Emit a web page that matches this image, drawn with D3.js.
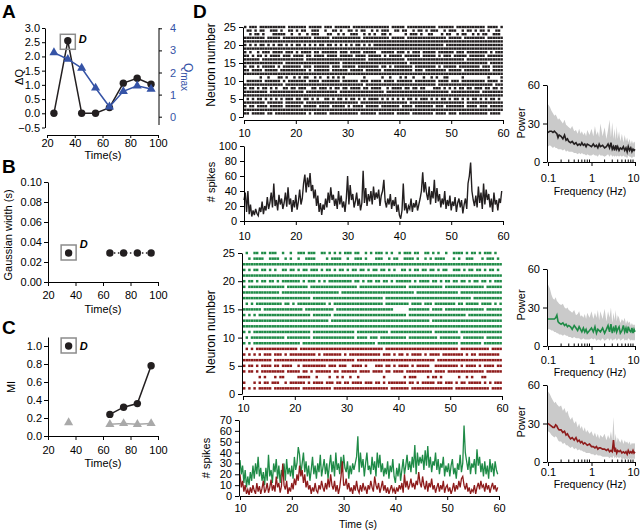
<!DOCTYPE html>
<html><head><meta charset="utf-8">
<script src="https://cdn.jsdelivr.net/npm/d3@7"></script>
<style>
body{margin:0;background:#fff;}
svg{font-family:"Liberation Sans",Arial,Helvetica,sans-serif;}
</style></head><body>
<svg id="c" width="640" height="532"></svg>
<script>
// ---------------- DATA ----------------
// Panel A
const timesA = [25,35,45,55,65,75,85,95];
const deltaQ = [0,2.55,0,0,0.2,1.06,1.23,1.02];
const qMax = [2.9,2.6,2.2,1.3,0.45,1.15,1.4,1.25];
const ticksA_x = [20,40,60,80,100];
const ticksA_y = [-0.5,0,0.5,1,1.5,2,2.5,3];
const ticksA_q = [0,1,2,3,4];
// Panel B
const timesB = [65,75,85,95];
const gaussWidth = [0.029,0.029,0.029,0.029];
const highlightB = {t:35, v:0.029};
const ticksB_y = [0,0.02,0.04,0.06,0.08,0.10];
// Panel C
const timesC = [65,75,85,95];
const miValues = [0.24,0.32,0.36,0.78];
const highlightC = {t:35, v:1.0};
const timesCShuf = [65,75,85,95];
const miShuffled = [0.13,0.14,0.13,0.14];
const miShufSingle = {t:35, v:0.15};
const ticksC_y = [0,0.2,0.4,0.6,0.8,1.0];
// Panel D rasters (one string per neuron, 25 -> 1; each char = 0.5 s bin from 10 s)
const rasterBinStart = 10, rasterBinWidth = 0.5;
const rasterTopRows = [
"#.###.#### ######.### ####.##### .###.##### #.######## ######.### ##.####### ####.##### #.######## ###.####.#",
".##.#.##.. ###.#..##. #.##..###. .#..##.#.. ##.#.##..# .#.###..## .##..#.##. #.###..#.# ##..#.##.# .##.#..##.",
"..#.##.#.. .#####..#. .#..#.###. ..##..#.#. .###..#.#. #..##.#... ..#.###.#. .##...#.## ..#.##..#. #.##..###.",
"########.# ####.##### ######.### ###.###### #####.#### ######.### ##.####### ########.# ####.##### ###.######",
"########## ########## ########## ########## ########## ########## ########## ########## ########## ##########",
"#.#.#.##.# .#.##.#.#. ##.#.#.#.# #.##.#.#.# .#.##.#.#. ########## ########## #######.## ########## ##########",
"########## ########## ########## ########## ########## ########## ########## ########## ########## ##########",
"#.#..#.### .####.###. #.####.##. ######.### .####.#### #..#####.# ##.#.###.# ####.##### #.###.#### ####.#.###",
"##.#.##.#. ####.###.# ###.##.### #.####.### ##.####.## ###.#.#### #.######.# ####.#.### .#####.### ###.######",
"######.### ########## ###.###### ########## #######.## ########## ##.####### ########## #####.#### ##########",
"########## #####.#### ########## #######.## ########## ########## ###.###### ########## ########## ####.#####",
"#.##.#.### ##.#.##### ##.###.### ###.###.## ###.###### ##.##.#.## #####.#### ####.#.### ##.####### #.###.####",
"##.####.## ###.###### ####.#.### ###.###### .#####.### ###.###### #####.###. ########.# ####.##### #####.####",
"########## ########## ########## ########## ########## ########## ########## ########## ########## ##########",
"......#..# ...##.#..# .#.##..#.# ..#.#.#.#. ......#... ...#..#... #.#..#...# ..#.#..##. ....#..... ....#....#",
".######.## ####.#.### ####.####. #######.## ####.###.# ###.####.# #####.#### ####.####. ###.###### ###.####.#",
"########## #####.#### ########## ########## ######.### ########## ########## ####.##### ########## ######.###",
"#.##.#.##. #.#..##.## .###..##.# ##.#.##.## .####.##.# ###..#.### #.##.##.## ...###.#.# .#.##.##.# ##.##.##.#",
"#########. ########## ###.###### ######.### ########## ####.##### ########## #########. ########## #.########",
"########## ########## ########## ########## ########## ########## ########## ########## ########## ##########",
".#.#.##.#. #.#.#.###. ##.##.#.#. .##.#.##.# .##.#.#.## ##.#.#.#.# .#.##.#.## #.#.#.##.# .##.#.#.## .#.#.##.#.",
"########.# #####.#### ###.###### ########## ####.##### ########## ###.###### ########## #####.#### ##########",
"#.##.####. #####.#### ##.#####.# ###.#####. #.####.### ##.####### .####.#### ###.###.## #####.#### .###.#####",
"########## ########## ########## ########## ########## ########## ########## ########## ########## ##########",
"##.#####.# #.######## ####.#.### ##.####### ####.##### #.######.# ####.##### ###.####.# ##.####### ####.####."
];
const rasterBotRows = [
".#..##.##. ###..#..#. .###.###.. ##.#.#.#.# ##.##..#.# .###.#.#.. #.###.##.. ##.#.#..#. .####.#.## .#.###.#..",
"..#.####.. ####..#.#. .#..####.. ..#.####.. #..###.#.. .###..#.## ..####.#.. #.#.####.. .#.#..###. ..#.###.#.",
"########## ########## ########## ########## ########## ########## ########## ########## ########## ##########",
"#.#.##.##. #.#..##.## .#.##.###. #.##.#.##. #.##.##.#. ##.##.#.#. .##.#.##.# #.##.#.##. .###.#.##. ##.#.##.#.",
"########## ########## ########## ########## ########## ########## ########## ########## ########## ##########",
"#.##.#.##. ##.#.##### ##.#.###.# .#.####### ##.##.#.## .##.##.#.# #####.#.## ##.##.#.## .##.##.#.# #.##.#.###",
"#.######## ######.### #####.#### ########## ####.##### ########## ###.###### #######.## ########## ###.######",
"########## ####.##### ########## #######.## ########## ########## ######.### ########## ###.###### ##########",
"########## ########## ######.### ########## ########## ####.##### ########## ########## ########.# ##########",
".#.#.##### #####.##.# .######### ##.#.##### ########## ####.##### ####.####. ###.###### ##.##.#### #.####.#.#",
"#######.## ########## ###.###### #####.#### ########## ########.. ....###### ##.####.## ########## ###.######",
"#.#.#.#### ########## ######.### ####.##### ########## ########## ###.###### ########## ######.### ##########",
"########## ########## ########## ###.###### ########## ########## ########## ##.####### ########## ##########",
"########## ########## ########## ########## ########## ########## ########## ########## ########## ##########",
"#.#.###### ########## ######.### ########## ###.###### ######.### ########## ###.###### ###.###### ##########",
".#.####### ######.### ######.### ########## ###.####.# ##.####### ###.###### #####.#### ####.##### ###.######",
"#.#.###### ########## ##.####### ########## ########## #.######## ########## ########## ###.###### ##.#######",
".#.#.##### ########## #.######## ########## ########## ####.##### ########## ########## ###.###### #####.####",
"#.#.#.#.## #.###.#.## ########.# .#######.# .######### ###.###.#. ##.#.####. #.####.### #####.#.## .########.",
"########## #.######## ########## ########## ###.###### ########## ########## ####.##### ########## ##########",
"#.##.#.### #.##.####. .#.####### ##.###.### ..####.#.. .###.##.#. ####.#.### ##..###### ###.#.#### .#.####.##",
"#.##.#.### ######.### ##.##.#.## ####.##.## ####.####. ####.##.## ##.####### ###.####.# ########## ###.######",
"......#.#. ..#.##.... .#####..#. ...#..#.#. .#..#..... ....#..... ..#.###... .#.##.#... ...#..#.#. ..##......",
"#...#.#.## .###..#.## ####.#.### #.###.##.# #.####.### .##.#.#### ###.##.#.# ####.##.## #.#.##.### ##.#.#.###",
"#.#.#.#### #.######## ##.####### ####.##### ########## ######.### ####.##### ########## #.######## #####.####"
];
const rasterBotGroup = ["E","E","E","E","E","E","E","E","E","E","E","E","E","E","E","E","E","I","I","I","I","I","I","I","I"];
// Panel D spike counts (0.25 s bins from 10 s)
const spikeBinStart = 10, spikeBinWidth = 0.25;
const spikesAll = [
28,38,12,40,9,22,6,14,8,16,10,7,18,12,26,9,20,14,32,16,
24,38,18,50,20,28,14,35,22,30,16,24,38,19,45,22,30,12,28,18,
35,15,26,42,22,30,50,62,38,58,45,64,40,48,30,42,20,34,12,24,
8,22,15,30,18,38,24,45,28,35,20,30,16,40,22,34,18,26,12,30,
60,22,48,28,36,18,26,38,20,30,14,24,67,24,44,20,36,26,40,22,
46,28,38,30,42,20,34,40,55,26,18,30,22,36,16,28,20,32,12,22,
8,3,14,50,14,24,10,20,16,30,12,24,18,28,14,22,30,40,65,38,
52,36,28,46,22,40,30,55,24,44,26,36,18,30,22,40,16,28,20,34,
14,26,20,32,12,24,30,18,28,10,22,30,16,50,60,78,40,28,20,34,
18,46,24,38,16,50,22,42,28,36,18,30,12,38,22,28,14,30,24,40];
const spikesE = [
33,20,28,12,24,8,18,10,22,14,28,16,30,20,36,18,26,14,22,10,
26,14,38,18,24,12,30,22,34,16,28,12,24,18,30,14,34,20,26,18,
28,16,36,24,30,45,38,20,30,40,22,32,18,28,14,24,36,20,28,16,
30,22,38,18,26,34,20,30,16,28,38,22,32,18,40,24,30,20,36,22,
38,26,22,32,16,28,20,30,24,30,36,55,22,40,26,34,18,30,40,24,
28,20,36,24,32,18,40,26,38,22,30,18,26,20,32,16,28,22,34,18,
12,26,18,30,14,24,34,20,28,38,24,32,22,36,26,47,20,40,28,36,
30,38,24,42,28,46,26,36,22,32,28,40,24,34,20,30,26,36,18,28,
22,30,18,28,34,20,26,16,30,24,38,22,30,65,40,32,24,36,20,30,
26,34,20,43,28,36,22,30,18,32,20,28,16,34,22,30,18,32,24,20];
const spikesI = [
20,8,14,4,10,2,6,1,8,3,10,5,2,12,4,9,2,7,14,3,
6,12,3,8,15,5,10,4,18,8,12,3,9,30,10,6,14,2,8,4,
12,6,16,10,20,14,28,18,24,12,20,8,14,6,10,2,8,4,12,5,
3,10,6,14,8,4,12,6,16,8,20,10,6,14,4,10,2,8,18,32,
10,10,16,6,12,4,8,2,10,5,14,6,3,10,4,12,6,8,2,10,
6,14,8,4,18,10,6,12,3,8,14,5,10,3,8,2,6,10,4,7,
2,8,4,10,6,12,3,20,8,14,6,10,16,8,12,6,14,10,22,12,
8,18,10,6,14,4,12,8,16,6,10,3,8,12,4,10,6,14,3,8,
10,4,8,2,6,12,4,10,6,14,8,16,18,10,6,12,4,8,2,6,
4,10,2,8,12,6,14,8,10,4,12,6,10,3,8,12,6,10,4,8];
const ticksTime = [10,20,30,40,50,60];
const ticksNeuron = [0,5,10,15,20,25];
const ticksSpikesTop = [0,20,40,60,80,100];
const ticksSpikesBot = [0,10,20,30,40,50,60,70];
// Power spectra
const powFreq = [0.1,0.11,0.12,0.13,0.14,0.15,0.16,0.17,0.18,
 0.2,0.22,0.24,0.26,0.28,0.3,
 0.33,0.36,0.4,0.44,0.48,0.52,0.56,0.6,
 0.65,0.7,0.75,0.8,0.9,1.0,
 1.1,1.2,1.3,1.4,1.5,1.6,1.8,2.0,
 2.2,2.4,2.6,2.8,3.0,3.2,3.4,3.6,3.8,4.0,
 4.3,4.6,5.0,5.4,5.8,6.2,6.6,7.0,7.5,8.0,8.5,9.0,9.5,10];
const powAllMean = [23,24,24,23,24,23,22,19,21, 20,18,21,17,18,16, 15,16,14,15,13,14,13,15, 13,14,12,14,13,12, 14,12,13,11,14,12,13,11, 12,14,11,15,10,12,9,13,10,12, 9,11,10,12,9,11,8,12,9,11,8,10,9,10];
const powAllHi = [45,43,40,38,36,37,35,33,34, 32,30,33,29,28,27, 26,28,24,25,22,26,22,24, 21,23,20,25,21,26, 20,28,21,24,19,30,20,27, 18,25,33,19,31,18,26,17,28,18, 24,16,22,15,21,16,19,15,18,14,17,14,16,15];
const powAllLo = [12,13,12,11,12,11,11,10,10, 10,9,10,8,9,8, 8,8,7,7,6,7,6,7, 6,6,5,6,5,5, 6,5,5,4,6,5,5,4, 5,6,4,6,4,5,4,5,4,5, 4,5,4,5,4,4,3,5,4,4,3,4,4,4];
const powEMean = [21,21,21,21,21,22,24,19,18, 17,18,16,17,15,16, 15,13,16,14,12,15,13,11, 14,11,13,10,12,14, 11,15,10,13,12,11,14,10, 13,16,11,17,10,14,12,16,11,13, 15,10,12,16,11,14,10,15,12,11,14,10,13,11];
const powEHi = [48,45,40,37,36,38,35,34,33, 32,33,30,29,30,28, 27,26,28,24,25,27,23,24, 22,25,21,26,22,27, 21,26,22,28,20,27,21,29, 19,27,22,30,18,26,20,28,19,24, 22,18,21,19,22,17,20,18,19,16,18,16,17,16];
const powELo = [13,13,12,12,11,11,10,10,9, 9,8,9,8,8,7, 7,6,7,6,6,6,5,5, 6,5,5,5,5,6, 5,6,4,5,5,4,6,4, 5,6,4,6,4,5,5,6,4,5, 6,4,5,6,4,5,4,6,5,4,5,4,5,4];
const powIMean = [30,29,28,27,27,29,28,26,25, 25,23,24,21,22,20, 18,19,17,19,16,17,15,16, 14,15,14,13,14,12, 12,11,12,10,11,11,10,10, 9,10,8,9,8,17,8,10,7,9, 8,9,7,8,7,8,6,9,7,8,7,9,7,8];
const powIHi = [55,53,50,48,46,47,45,44,43, 44,40,42,38,40,36, 33,35,30,32,27,30,26,28, 24,27,23,25,22,24, 20,23,19,22,18,21,19,22, 17,21,18,24,17,35,16,22,15,19, 17,15,18,14,17,15,16,14,16,13,15,14,15,14];
const powILo = [24,23,21,20,19,20,19,17,16, 16,14,15,13,13,12, 11,12,10,11,9,10,9,9, 8,8,7,7,7,6, 6,5,6,5,5,5,4,4, 4,4,3,4,3,5,3,4,3,4, 3,4,2,3,2,3,2,3,2,3,2,3,2,3];
const powMajorTicks = [0.1,1,10];
const powMinorTicks = [0.2,0.3,0.4,0.5,0.6,0.7,0.8,0.9,2,3,4,5,6,7,8,9];
const powYTicks = [0,30,60];

// ---------------- STYLE ----------------
const FONT = "'Liberation Sans', Arial, Helvetica, sans-serif";
const BLACK = "#231f20", BLUE = "#3553a6", GREEN = "#1f8b47", RED = "#8e1b1b", GRAY = "#a9a9a9", BAND = "#cacaca";
const svg = d3.select("#c");

function styleAx(g, color){
  g.attr("font-family", FONT).attr("font-size", 11);
  g.selectAll("path.domain").attr("stroke", "#000").attr("stroke-width", 1);
  g.selectAll(".tick line").attr("stroke", "#000").attr("stroke-width", 1);
  g.selectAll(".tick text").attr("fill", color || "#000");
}
function axB(scale, y, ticks, fmt, ts, pad){
  const a = d3.axisBottom(scale).tickValues(ticks).tickSize(ts).tickSizeOuter(0).tickPadding(pad);
  if (fmt) a.tickFormat(fmt);
  const g = svg.append("g").attr("transform", `translate(0,${y})`).call(a); styleAx(g); return g;
}
function axL(scale, x, ticks, fmt, ts, pad){
  const a = d3.axisLeft(scale).tickValues(ticks).tickSize(ts).tickSizeOuter(0).tickPadding(pad);
  if (fmt) a.tickFormat(fmt);
  const g = svg.append("g").attr("transform", `translate(${x},0)`).call(a); styleAx(g); return g;
}
function txt(x, y, s, o){
  o = o || {};
  const t = svg.append("text").attr("x", x).attr("y", y).text(s)
    .attr("font-family", FONT).attr("font-size", o.size || 11)
    .attr("text-anchor", o.anchor || "middle").attr("fill", o.fill || "#000");
  if (o.bold) t.attr("font-weight", "bold");
  if (o.italic) t.attr("font-style", "italic");
  return t;
}
function rtxt(x, y, s, o){
  o = o || {};
  return svg.append("text").attr("transform", `translate(${x},${y}) rotate(${o.rot || -90})`)
    .attr("text-anchor", "middle").attr("font-family", FONT).attr("font-size", o.size || 11)
    .attr("fill", o.fill || "#000").text(s);
}
const sym = (type, size) => d3.symbol().type(type).size(size)();

// Panel letters
txt(2, 18, "A", {size:19, bold:true, anchor:"start"});
txt(2, 173, "B", {size:19, bold:true, anchor:"start"});
txt(2, 334, "C", {size:19, bold:true, anchor:"start"});
txt(193, 18, "D", {size:19, bold:true, anchor:"start"});

// ---------------- PANEL A ----------------
{
  const x = d3.scaleLinear([20,100],[47,158]);
  const y = d3.scaleLinear([-0.5,3],[127.5,28]);
  const yq = d3.scaleLinear([0,4],[116.7,28.3]);
  axB(x, 135, ticksA_x, null, 3, 1);
  axL(y, 45, ticksA_y, d3.format(".1f"), 3, 2);
  const gq = svg.append("g").attr("transform","translate(159,0)")
    .call(d3.axisRight(yq).tickValues(ticksA_q).tickFormat(d3.format("d")).tickSize(3).tickSizeOuter(0).tickPadding(8));
  styleAx(gq, BLUE);
  gq.select("path.domain").remove();
  svg.append("line").attr("x1",159).attr("x2",159).attr("y1",28).attr("y2",125).attr("stroke","#000");
  const dA = timesA.map((t,i)=>({t, v:deltaQ[i], q:qMax[i]}));
  svg.append("path").datum(dA).attr("fill","none").attr("stroke",BLACK).attr("stroke-width",1.5)
    .attr("d", d3.line().x(d=>x(d.t)).y(d=>y(d.v)));
  svg.selectAll(".ca").data(dA).join("circle").attr("cx",d=>x(d.t)).attr("cy",d=>y(d.v)).attr("r",3.7).attr("fill",BLACK);
  svg.append("path").datum(dA).attr("fill","none").attr("stroke",BLUE).attr("stroke-width",1.5)
    .attr("d", d3.line().x(d=>x(d.t)).y(d=>yq(d.q)));
  svg.selectAll(".ta").data(dA).join("path").attr("transform",d=>`translate(${x(d.t)},${yq(d.q)})`)
    .attr("d", sym(d3.symbolTriangle, 36)).attr("fill",BLUE);
  svg.append("rect").attr("x",x(35)-7.5).attr("y",y(deltaQ[1])-6.5).attr("width",15).attr("height",15)
    .attr("fill","none").attr("stroke","#8c8c8c").attr("stroke-width",1.5);
  txt(x(35)+11, y(deltaQ[1])+2, "D", {bold:true, italic:true, anchor:"start"});
  rtxt(23, 77, "ΔQ");
  const q = svg.append("text").attr("transform","translate(184,77) rotate(90)").attr("text-anchor","middle")
    .attr("font-family",FONT).attr("font-size",12).attr("fill",BLUE);
  q.append("tspan").text("Q");
  q.append("tspan").attr("font-size",10).attr("dy",3).text("max");
  txt(103, 159, "Time(s)", {size:11});
}

// ---------------- PANEL B ----------------
{
  const x = d3.scaleLinear([20,100],[48,158]);
  const y = d3.scaleLinear([0,0.1],[282,182]);
  axB(x, 282, ticksA_x, null, 4, 5);
  axL(y, 48, ticksB_y, d3.format(".2f"), 4, 2);
  const d = timesB.map((t,i)=>({t, v:gaussWidth[i]}));
  svg.append("path").datum(d).attr("fill","none").attr("stroke",BLACK).attr("stroke-width",1.5)
    .attr("stroke-dasharray","1.5,2.5").attr("d", d3.line().x(e=>x(e.t)).y(e=>y(e.v)));
  svg.selectAll(".cb").data(d.concat([highlightB])).join("circle").attr("cx",e=>x(e.t)).attr("cy",e=>y(e.v)).attr("r",3.7).attr("fill",BLACK);
  svg.append("rect").attr("x",x(highlightB.t)-7.5).attr("y",y(highlightB.v)-8).attr("width",15).attr("height",15)
    .attr("fill","none").attr("stroke","#8c8c8c").attr("stroke-width",1.5);
  txt(x(highlightB.t)+11, y(highlightB.v)-5, "D", {bold:true, italic:true, anchor:"start"});
  rtxt(12, 235, "Gaussian width (s)");
  txt(103, 313, "Time(s)");
}

// ---------------- PANEL C ----------------
{
  const x = d3.scaleLinear([20,100],[48,158]);
  const y = d3.scaleLinear([0,1.1],[436,337]);
  axB(x, 436, ticksA_x, null, 4, 6);
  axL(y, 48, ticksC_y, d3.format(".1f"), 4, 2);
  const ds = timesCShuf.map((t,i)=>({t, v:miShuffled[i]}));
  svg.append("path").datum(ds).attr("fill","none").attr("stroke",GRAY).attr("stroke-width",1.5)
    .attr("d", d3.line().x(e=>x(e.t)).y(e=>y(e.v)));
  svg.selectAll(".tc").data(ds.concat([miShufSingle])).join("path").attr("transform",e=>`translate(${x(e.t)},${y(e.v)})`)
    .attr("d", sym(d3.symbolTriangle, 36)).attr("fill",GRAY);
  const d = timesC.map((t,i)=>({t, v:miValues[i]}));
  svg.append("path").datum(d).attr("fill","none").attr("stroke",BLACK).attr("stroke-width",1.5)
    .attr("d", d3.line().x(e=>x(e.t)).y(e=>y(e.v)));
  svg.selectAll(".cc").data(d.concat([highlightC])).join("circle").attr("cx",e=>x(e.t)).attr("cy",e=>y(e.v)).attr("r",3.7).attr("fill",BLACK);
  svg.append("rect").attr("x",x(highlightC.t)-7.5).attr("y",y(highlightC.v)-8).attr("width",15).attr("height",15)
    .attr("fill","none").attr("stroke","#8c8c8c").attr("stroke-width",1.5);
  txt(x(highlightC.t)+11, y(highlightC.v)+4, "D", {bold:true, italic:true, anchor:"start"});
  rtxt(15, 387, "MI");
  txt(103, 467, "Time(s)");
}

// ---------------- PANEL D ----------------
function drawRaster(rows, xs, ys, colorOf, h){
  rows.forEach((r, k) => {
    const neuron = rows.length - k;
    const s = r.replace(/ /g, "");
    const bins = [];
    for (let i = 0; i < s.length; i++) if (s[i] === "#") bins.push(rasterBinStart + i*rasterBinWidth);
    svg.append("g").selectAll("rect").data(bins).join("rect")
      .attr("x", t => xs(t)).attr("width", xs(rasterBinStart + rasterBinWidth) - xs(rasterBinStart) - 0.15)
      .attr("y", ys(neuron) - h/2).attr("height", h).attr("fill", colorOf(k));
  });
}
function drawCounts(vals, xs, ys, color, w){
  svg.append("path").datum(vals).attr("fill","none").attr("stroke",color).attr("stroke-width",w || 1.2)
    .attr("d", d3.line().x((v,i)=>xs(spikeBinStart + i*spikeBinWidth)).y(v=>ys(v)));
}
{
  // top raster
  const xs = d3.scaleLinear([10,60],[244,503]);
  const ys = d3.scaleLinear([0,25],[117,27]);
  drawRaster(rasterTopRows, xs, ys, () => BLACK, 2.4);
  axL(ys, 243, ticksNeuron, null, 4, 3);
  axB(xs, 120, ticksTime, null, 4, 5);
  rtxt(215, 65, "Neuron number", {size:12});

  // top spike count
  const ys2 = d3.scaleLinear([0,100],[221,146]);
  drawCounts(spikesAll, xs, ys2, BLACK, 1.4);
  axL(ys2, 244, ticksSpikesTop, null, 4, 3);
  axB(xs, 221, ticksTime, null, 4, 7);
  rtxt(215, 182, "# spikes");

  // second raster
  const xs3 = d3.scaleLinear([10,60],[243,502]);
  const ys3 = d3.scaleLinear([0,25],[394,253]);
  drawRaster(rasterBotRows, xs3, ys3, k => rasterBotGroup[k] === "E" ? GREEN : RED, 2.5);
  axL(ys3, 242, ticksNeuron, null, 4, 3);
  axB(xs3, 396, ticksTime, null, 4, 4);
  rtxt(215, 332, "Neuron number", {size:12});

  // bottom spike count
  const xs4 = d3.scaleLinear([10,60],[240,499]);
  const ys4 = d3.scaleLinear([0,70],[496,420]);
  drawCounts(spikesE, xs4, ys4, GREEN, 1.3);
  drawCounts(spikesI, xs4, ys4, RED, 1.3);
  axL(ys4, 239, ticksSpikesBot, null, 4, 3);
  axB(xs4, 496, ticksTime, null, 4, 4);
  rtxt(210, 458, "# spikes");
  txt(358, 528, "Time (s)", {size:10.5});
}

// ---------------- POWER SPECTRA ----------------
function drawPower(y0, mean, lo, hi, color, labBase, titleBase, powerY){
  const x = d3.scaleLog([0.1,10],[548,635]);
  const y = d3.scaleLinear([0,60],[y0, y0-77]);
  const d = powFreq.map((f,i)=>({f, m:mean[i], lo:lo[i], hi:hi[i]}));
  svg.append("path").datum(d).attr("fill",BAND)
    .attr("d", d3.area().x(e=>x(e.f)).y0(e=>y(e.lo)).y1(e=>y(e.hi)));
  svg.append("path").datum(d).attr("fill","none").attr("stroke",color).attr("stroke-width",1.6)
    .attr("d", d3.line().x(e=>x(e.f)).y(e=>y(e.m)));
  axL(y, 547, powYTicks, null, 4, 3);
  const g = axB(x, y0, powMajorTicks, d3.format("~g"), 4, labBase - y0 - 8);
  g.selectAll(".tick text").filter(v => v === 10).attr("dx", -2);
  svg.append("g").selectAll("line").data(powMinorTicks).join("line")
    .attr("x1",f=>x(f)).attr("x2",f=>x(f)).attr("y1",y0).attr("y2",y0-2.5).attr("stroke","#000");
  txt(590, titleBase, "Frequency (Hz)", {size:10.5});
  rtxt(525, powerY, "Power");
}
drawPower(162, powAllMean, powAllLo, powAllHi, BLACK, 178, 195, 123);
drawPower(346, powEMean, powELo, powEHi, GREEN, 360, 376, 305);
drawPower(462, powIMean, powILo, powIHi, RED, 472, 488, 422);
</script>
</body></html>
